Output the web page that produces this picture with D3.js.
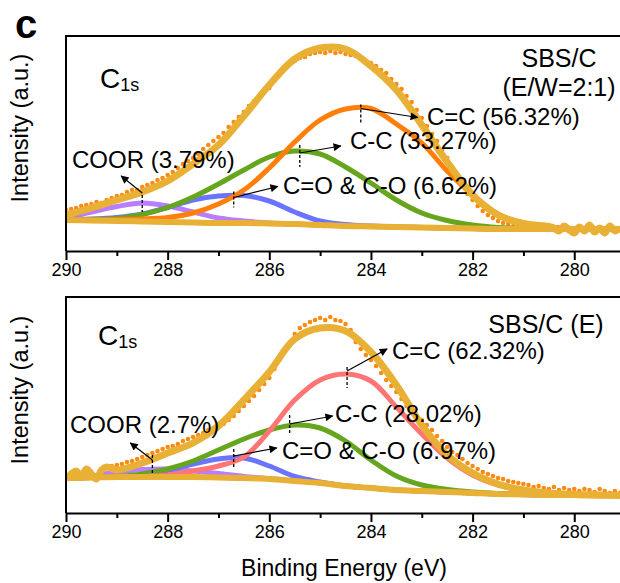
<!DOCTYPE html>
<html><head><meta charset="utf-8">
<script src="https://cdn.jsdelivr.net/npm/d3@7"></script>
<style>
html,body{margin:0;padding:0;background:#fff;}
svg{display:block;font-family:Arial,"Liberation Sans",sans-serif;}
</style></head><body>
<svg id="chart" width="620" height="583"></svg>
<script>
// ---------- DATA ----------
// fitted-curve sampling energies (eV)
const gridE = [290,289.5,289,288.5,288,287.5,287,286.5,286,285.5,285,284.5,284,283.5,283,282.5,282,281.5,281,280.5,280,279.5,279];
// raw-data energies (eV)
const dataE = [290.0,289.9,289.8,289.7,289.6,289.5,289.4,289.3,289.2,289.1,
 289.0,288.9,288.8,288.7,288.6,288.5,288.4,288.3,288.2,288.1,
 288.0,287.9,287.8,287.7,287.6,287.5,287.4,287.3,287.2,287.1,
 287.0,286.9,286.8,286.7,286.6,286.5,286.4,286.3,286.2,286.1,
 286.0,285.9,285.8,285.7,285.6,285.5,285.4,285.3,285.2,285.1,
 285.0,284.9,284.8,284.7,284.6,284.5,284.4,284.3,284.2,284.1,
 284.0,283.9,283.8,283.7,283.6,283.5,283.4,283.3,283.2,283.1,
 283.0,282.9,282.8,282.7,282.6,282.5,282.4,282.3,282.2,282.1,
 282.0,281.9,281.8,281.7,281.6,281.5,281.4,281.3,281.2,281.1,
 281.0,280.9,280.8,280.7,280.6,280.5,280.4,280.3,280.2,280.1,
 280.0,279.9,279.8,279.7,279.6,279.5,279.4,279.3,279.2,279.1];

const xTickValues = [290,288,286,284,282,280];
const xMinorValues = [289,287,285,283,281,279];

// ---- panel 1 : SBS/C (E/W=2:1) ----
const rawTop = [41,42,43,45,46,47,49,48,51,53,
 55,56,59,61,61,64,66,68,71,73,
 76,79,83,87,90,93,97,102,106,110,
 114,118,124,129,134,139,145,150,155,159,
 163,170,176,182,187,190,193,194,197,198,
 199,198,200,198,199,197,196,195,192,190,
 188,185,181,178,172,167,162,155,149,141,
 133,125,117,110,101,93,84,75,65,57,
 51,45,40,36,33,30,28,27,25,26,
 24,23,25,22,24,21,23,20,25,21,
 18,24,20,26,19,23,18,25,20,23];
const envTop   = [36,43,51,59,70,87,106,135,166,192,203,202,185,161,126,89,56,36,27.5,24.5,23,22.5,22.5];
const bgTop    = [31,30.5,30,29.5,29,28.5,28,28,27.5,27,26,25,24.5,24,23.5,23,22.5,22,22,22,22,22,22];
const coorTop  = [33,39,44.5,48,45,39,33,30,28,27,26,25,24.5,24,23.5,23,22.5,22,22,22,22,22,22];
const coTop    = [31.5,32,33.5,37,43.5,51,55,55.5,50,39,30,26.5,25,24,23.5,23,22.5,22,22,22,22,22,22];
const ccTop    = [31,31.5,32.5,36.5,43.5,54,67,81,94,100,97,84,68,51,38,30.5,26,23.5,22.5,22,22,22,22];
const cdcTop   = [31,31,31.5,32,33.5,38,47,61,83,109,131,142,142.5,127,108,80,56,37,27,24,22.5,22,22];

// ---- panel 2 : SBS/C (E) ----
const rawBot = [34,39,42,36,44,39,34,43,46,47,
 48,49,51,52,54,56,58,60,62,64,
 66,67,69,72,74,76,78,80,83,85,
 87,89,93,97,102,107,112,117,123,129,
 135,144,153,161,170,179,185,188,191,193,
 195,193,196,193,192,189,183,171,164,158,
 153,147,140,133,127,121,114,107,102,97,
 93,88,83,77,72,66,61,58,54,50,
 47,44,41,39,37,35,34,32,31,30,
 29,28,26,27,25,24,26,23,25,23,
 24,22,24,23,21,24,22,20,22,20];
const envBot   = [35,39,43,50,60,70,87,113,141,174,185,182,161,128,88,58,40,29,23,20,18.5,18,17.5];
const bgBot    = [35,35.5,36,36,36,36,35.5,35,34,32,30,27,25,23,22,21,20,19,18.5,18,18,17.5,17.5];
const coorBot  = [35,37,41,43.5,44,42,39.5,36.5,34.5,32,30,27,25,23,22,21,20,19,18.5,18,18,17.5,17.5];
const coBot    = [35,35.5,36,38,42.5,49,54,55,47,36.5,31,27,25,23,22,21,20,19,18.5,18,18,17.5,17.5];
const ccBot    = [35,35.5,36.5,39,44,52,63,74,83,88,85,72,53,37,28,23.5,21,19.5,19,18,18,17.5,17.5];
const cdcBot   = [35,35.5,36,36.5,38,42,47,56,82,113,133,139,132,106,79,55,38,28,22.5,19.5,18.5,18,17.5];

// peak centres (eV) and labels
const peakNames = ["COOR","C=O & C-O","C-C","C=C"];
const peakCentresTop = [288.5,286.7,285.4,284.2];
const peakCentresBot = [288.3,286.7,285.6,284.47];
const pctTop = ["3.79%","6.62%","33.27%","56.32%"];
const pctBot = ["2.7%","6.97%","28.02%","62.32%"];
const sampleTop = ["SBS/C","(E/W=2:1)"];
const sampleBot = ["SBS/C (E)"];

// ---------- DRAW ----------
const svg = d3.select("#chart");
const x = d3.scaleLinear().domain([290,279.1]).range([66,620]);
const GOLD = "#E8B034", DOT = "#FF8A12";
const colTop = ["#B97EFF","#6B74FF","#66A61E","#FF7F0A"];
const colBot = ["#B97EFF","#6B74FF","#66A61E","#FF7474"];

const defs = svg.append("defs");
defs.append("marker").attr("id","arr").attr("viewBox","0 0 10 10")
  .attr("refX",9).attr("refY",5).attr("markerWidth",11).attr("markerHeight",8)
  .attr("markerUnits","userSpaceOnUse").attr("orient","auto")
  .append("path").attr("d","M0,0 L10,5 L0,10 z").attr("fill","#000");

function drawPanel(p, idx){
  const y = d3.scaleLinear().domain([0,p.bottom-p.top]).range([p.bottom,p.top]);
  const g = svg.append("g");
  defs.append("clipPath").attr("id","clip"+idx).append("rect")
    .attr("x",66).attr("y",p.top).attr("width",560).attr("height",p.bottom-p.top);
  const pg = g.append("g").attr("clip-path",`url(#clip${idx})`);

  const rawPts = dataE.map((e,i)=>[e,p.raw[i]]);
  pg.selectAll("circle.raw").data(rawPts).enter().append("circle")
    .attr("cx",d=>x(d[0])).attr("cy",d=>y(d[1])).attr("r",2.3).attr("fill",DOT);

  const line = d3.line().x(d=>x(d[0])).y(d=>y(d[1])).curve(d3.curveCatmullRom.alpha(0.5));
  p.comps.forEach((c,i)=>{
    pg.append("path").datum(gridE.map((e,j)=>[e,c[j]]))
      .attr("d",line).attr("fill","none").attr("stroke",p.colors[i]).attr("stroke-width",5);
  });
  pg.append("path").datum(gridE.map((e,j)=>[e,p.bg[j]]))
    .attr("d",line).attr("fill","none").attr("stroke",GOLD).attr("stroke-width",6);
  let envPts;
  if(p.fitRight){
    envPts = gridE.map((e,j)=>[e,p.env[j]]).filter(d=>d[0]>=p.fitRight)
      .concat(rawPts.filter(d=>d[0]<p.fitRight));
  } else {
    envPts = rawPts.filter(d=>d[0]>p.fitLeft)
      .concat(gridE.map((e,j)=>[e,p.env[j]]).filter(d=>d[0]<=p.fitLeft));
  }
  pg.append("path").datum(envPts).attr("d",line).attr("fill","none")
    .attr("stroke",GOLD).attr("stroke-width",7).attr("stroke-linejoin","round");

  g.append("line").attr("x1",66).attr("x2",66).attr("y1",p.top-1).attr("y2",p.bottom)
    .attr("stroke","#000").attr("stroke-width",2);
  g.append("line").attr("x1",65).attr("x2",620).attr("y1",p.top).attr("y2",p.top)
    .attr("stroke","#000").attr("stroke-width",2);
  const ax = g.append("g").attr("transform",`translate(0,${p.bottom})`)
    .call(d3.axisBottom(x).tickValues(xTickValues).tickSize(9).tickSizeOuter(0).tickPadding(3).tickFormat(d3.format("d")));
  ax.select(".domain").attr("stroke-width",2.2);
  ax.selectAll(".tick line").attr("stroke-width",2);
  ax.selectAll(".tick text").attr("font-size",18).attr("font-family","Arial, 'Liberation Sans', sans-serif").attr("fill","#000");
  const axm = g.append("g").attr("transform",`translate(0,${p.bottom})`)
    .call(d3.axisBottom(x).tickValues(xMinorValues).tickSize(5).tickSizeOuter(0).tickFormat(""));
  axm.select(".domain").remove();
  axm.selectAll(".tick line").attr("stroke-width",2);

  g.append("text").attr("transform",`translate(28,${p.ylabY}) rotate(-90)`)
    .attr("text-anchor","middle").attr("font-size",23.5).text("Intensity (a.u.)");

  const c1 = g.append("text").attr("x",p.c1s[0]).attr("y",p.c1s[1]).attr("font-size",28);
  c1.append("tspan").text("C");
  c1.append("tspan").attr("font-size",18).attr("dy",3).text("1s");

  p.sample.forEach((s,i)=>{
    g.append("text").attr("x",p.sampleX).attr("y",p.sampleY+i*29).attr("text-anchor","middle")
      .attr("font-size",25).text(s);
  });

  p.centres.forEach((e,i)=>{
    const comp = p.comps[i];
    const px = x(e);
    const yy = y(d3.max(comp));
    const tk = p.ticks[i];
    g.append("line").attr("x1",px).attr("x2",px).attr("y1",yy+tk[0]).attr("y2",yy+tk[1])
      .attr("stroke","#000").attr("stroke-width",1.3).attr("stroke-dasharray","3,2");
    const a = p.arrows[i];
    g.append("line").attr("x1",px+a[0]).attr("y1",yy+a[1]).attr("x2",px+a[2]).attr("y2",yy+a[3])
      .attr("stroke","#000").attr("stroke-width",1.2).attr("marker-end","url(#arr)");
    g.append("text").attr("x",p.labels[i][0]).attr("y",p.labels[i][1]).attr("font-size",24)
      .text(`${peakNames[i]} (${p.pct[i]})`);
  });
}

const panels = [
  {top:36,bottom:251,raw:rawTop,env:envTop,bg:bgTop,comps:[coorTop,coTop,ccTop,cdcTop],colors:colTop,
   fitRight:280.45, centres:peakCentresTop, pct:pctTop, sample:sampleTop, sampleX:559, sampleY:67,
   ylabY:128, c1s:[100,88], ticks:[[-8,9],[-4,12],[-6,16],[-4,14]],
   arrows:[[0,-10,-21,-27],[0,2,44,-9],[0,2,41,-5],[0,0,57,9]],
   labels:[[72,168],[283,194],[350,149],[427,125]]},
  {top:297,bottom:513,raw:rawBot,env:envBot,bg:bgBot,comps:[coorBot,coBot,ccBot,cdcBot],colors:colBot,
   fitLeft:289.15, centres:peakCentresBot, pct:pctBot, sample:sampleBot, sampleX:546, sampleY:333,
   ylabY:390, c1s:[98,345], ticks:[[-14,6],[-9,9],[-10,8],[-7,14]],
   arrows:[[0,-9,-22,-26],[0,-2,43,-10],[0,-1,43,-9],[0,-3,40,-25]],
   labels:[[70,433],[282,459],[335,422],[392,359]]}
];
panels.forEach(drawPanel);

svg.append("text").attr("x",15).attr("y",38).attr("font-size",40).attr("font-weight","bold").text("c");
svg.append("text").attr("x",344).attr("y",576).attr("text-anchor","middle").attr("font-size",23)
  .text("Binding Energy (eV)");
</script>
</body></html>
